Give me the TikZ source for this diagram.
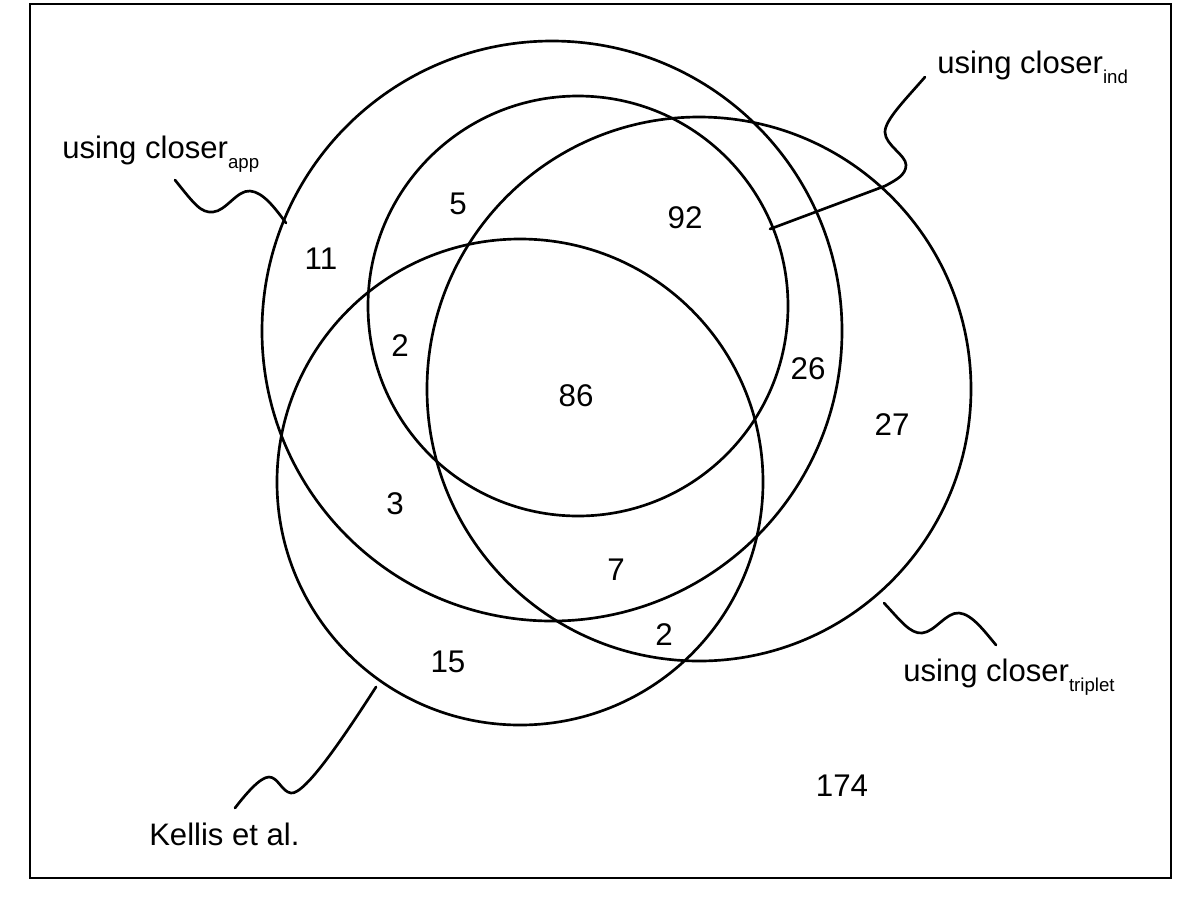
\documentclass[tikz,border=0pt]{standalone}
\usepackage{fontspec}
\setmainfont{Liberation Sans}
\newcommand\sublbl[2]{#1\raisebox{-7.5pt}{\fontsize{14}{16}\selectfont #2}}
\begin{document}
\begin{tikzpicture}[x=0.75pt,y=-0.75pt,
  ven/.style={draw, circle, line width=2pt, inner sep=0pt},
  num/.style={font=\fontsize{23.5}{27}\selectfont, inner sep=0pt},
  lab/.style={font=\fontsize{23.3}{27}\selectfont, inner sep=0pt, anchor=base west},
  squig/.style={line width=2pt, line join=round, line cap=round}]
\useasboundingbox (0,0) rectangle (1200,915);
\draw[line width=2.2pt] (30,4) rectangle (1171,878);
% circles
\node[ven, minimum size=435pt] (A) at (552,331) {};
\node[ven, minimum size=315pt] (B) at (578,306) {};
\node[ven, minimum size=408pt] (C) at (699,389) {};
\node[ven, minimum size=364.5pt] (D) at (520,482) {};
% region counts
\node[num] (n5) at (458,204) {5};
\node[num] (n11) at (321,259) {11};
\node[num] (n2a) at (400,346) {2};
\node[num] (n86) at (576,396) {86};
\node[num] (n92) at (685,218) {92};
\node[num] (n26) at (808,369) {26};
\node[num] (n27) at (892,425) {27};
\node[num] (n3) at (395,504) {3};
\node[num] (n7) at (616,570) {7};
\node[num] (n2b) at (664,635) {2};
\node[num] (n15) at (448,662) {15};
\node[num] (n174) at (842,786) {174};
% labels
\node[lab] (lapp) at (62,158) {\sublbl{using closer}{app}};
\node[lab] (lind) at (937,73) {\sublbl{using closer}{ind}};
\node[lab] (ltrip) at (903,681) {\sublbl{using closer}{triplet}};
\node[lab] (lkel) at (149,845) {Kellis et al.};
% squiggle ends
\coordinate (appS) at (175,180);
\coordinate (appE) at (286,223);
\coordinate (indS) at (925,77);
\coordinate (indE) at (770,229);
\coordinate (tripS) at (884,603);
\coordinate (tripE) at (996,645);
\coordinate (kelS) at (376,687);
\coordinate (kelE) at (235,808);
% squiggles
\draw[squig] (appS) .. controls (195,205) and (201,213) .. (213,212)
  .. controls (226,211) and (237,190) .. (250,191)
  .. controls (263,192) and (275,208) .. (appE);
\draw[squig] (indS) .. controls (905,100) and (885,120) .. (885,132)
  .. controls (885,145) and (906,155) .. (906,165)
  .. controls (906,175) and (896,180) .. (885,186) -- (indE);
\draw[squig] (tripS) .. controls (900,620) and (910,634) .. (922,633)
  .. controls (935,632) and (946,612) .. (959,613)
  .. controls (972,614) and (985,632) .. (tripE);
\draw[squig] (kelS) .. controls (345,735) and (305,795) .. (291,793)
  .. controls (282,792) and (278,777) .. (269,777)
  .. controls (260,777) and (245,795) .. (kelE);
\end{tikzpicture}
\end{document}
